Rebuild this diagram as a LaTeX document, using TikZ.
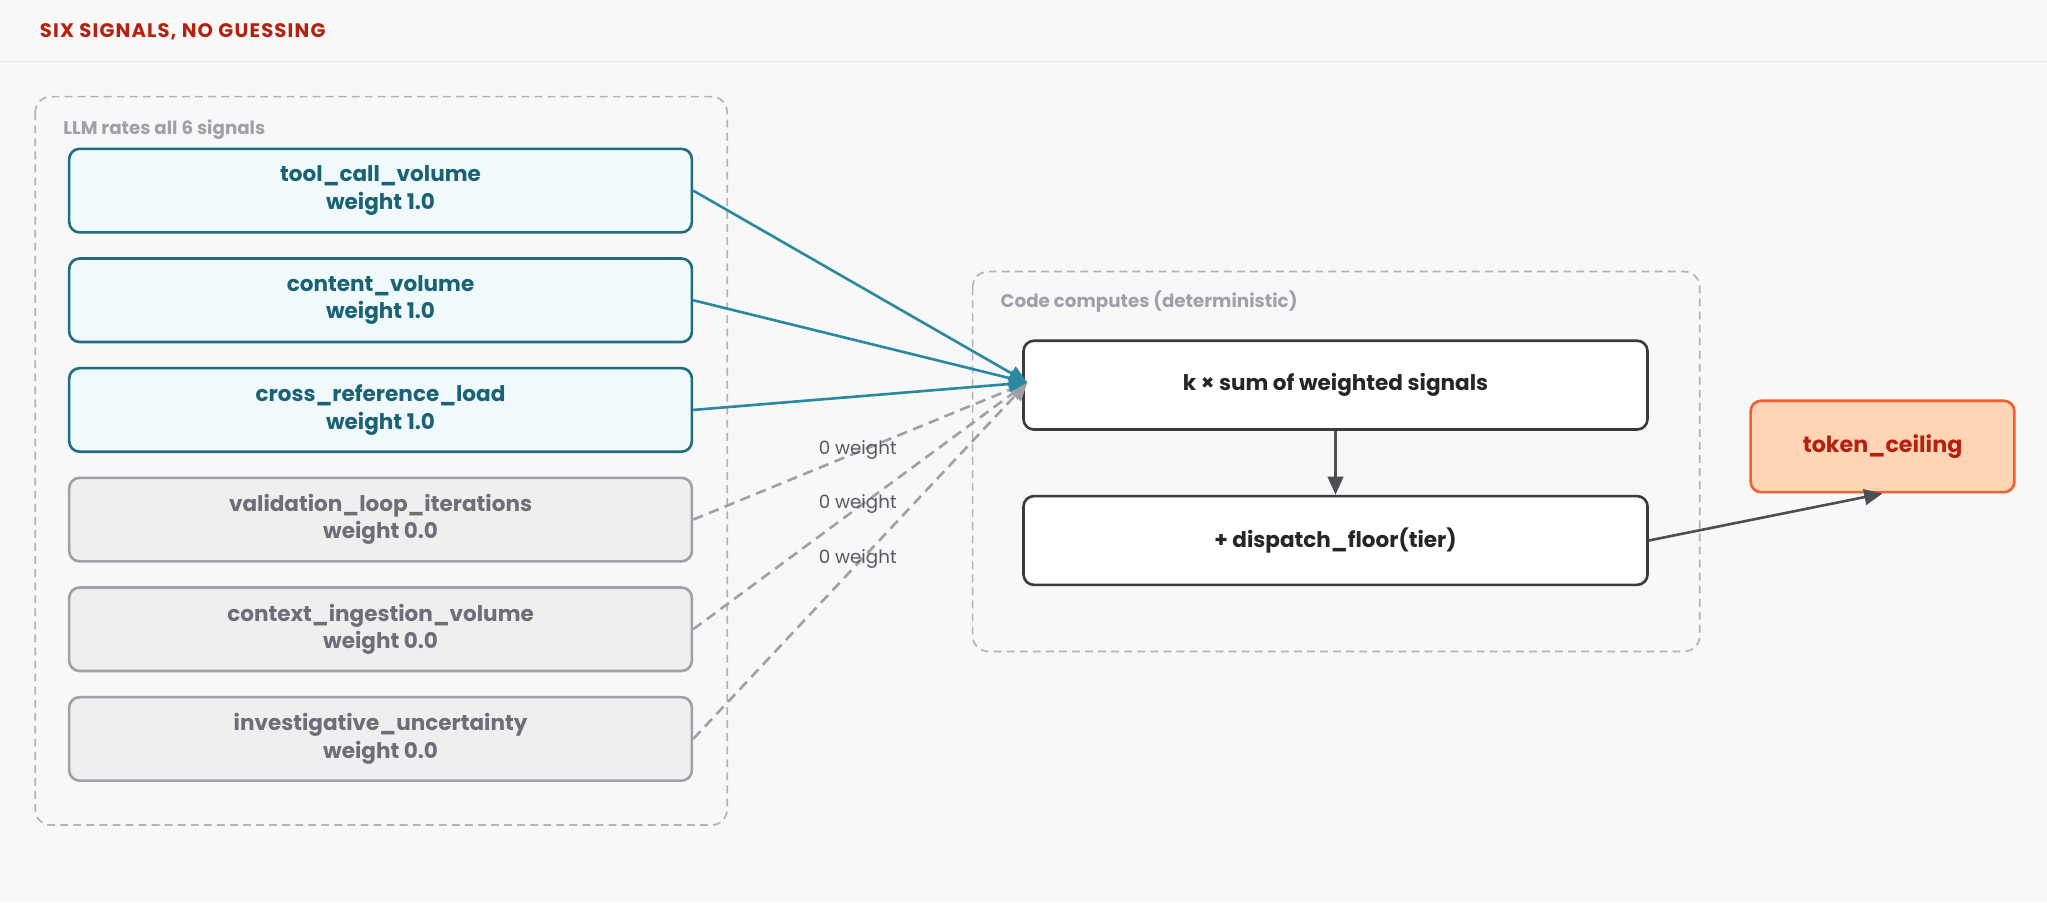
\documentclass[tikz,border=0pt]{standalone}
\usepackage{fontspec}
\setmainfont{Poppins}
\newfontfamily\titlefont[LetterSpace=6]{Poppins}
\usetikzlibrary{arrows.meta}
\definecolor{bg}{HTML}{F8F8F8}
\definecolor{titlered}{HTML}{B5200F}
\definecolor{bluefill}{HTML}{F0FAFC}
\definecolor{blueline}{HTML}{1F6E80}
\definecolor{bluetext}{HTML}{1A6275}
\definecolor{greyfill}{HTML}{EFEFEF}
\definecolor{greyline}{HTML}{A0A0A8}
\definecolor{greytext}{HTML}{6E6E78}
\definecolor{dark}{HTML}{3A3A40}
\definecolor{tokfill}{HTML}{FFD5B5}
\definecolor{tokline}{HTML}{F06030}
\definecolor{arrblue}{HTML}{2A88A0}
\tikzset{
  x=1pt,y=-1pt,
  group/.style={draw=greyline!80,dashed,line width=1.3pt,rounded corners=12pt,dash pattern=on 6pt off 4pt},
  glabel/.style={anchor=west,text=greyline,font=\fontsize{14}{17}\selectfont\bfseries},
  bluebox/.style={draw=blueline,fill=bluefill,line width=2pt,rounded corners=8pt,text=bluetext,font=\fontsize{16.5}{21}\selectfont\bfseries,align=center},
  greybox/.style={draw=greyline,fill=greyfill,line width=2pt,rounded corners=8pt,text=greytext,font=\fontsize{16.5}{21}\selectfont\bfseries,align=center},
  codebox/.style={draw=dark,fill=white,line width=2pt,rounded corners=8pt,text=black!85,font=\fontsize{16.5}{21}\selectfont\bfseries,align=center},
  tokbox/.style={draw=tokline,fill=tokfill,line width=2pt,rounded corners=8pt,text=titlered,font=\fontsize{17}{21}\selectfont\bfseries,align=center},
  bluearr/.style={draw=arrblue,line width=2pt,-{Triangle[length=14pt,width=12pt]}},
  greyarr/.style={draw=greyline,line width=2pt,dash pattern=on 8pt off 5pt,-{Triangle[length=14pt,width=12pt]}},
  darkarr/.style={draw=dark!90,line width=2pt,-{Triangle[length=14pt,width=12pt]}},
  wlabel/.style={font=\fontsize{14}{17}\selectfont,text=greytext!80!black}
}
\begin{document}
\begin{tikzpicture}
\fill[bg] (0,0) rectangle (1568,691);
\useasboundingbox (0,0) rectangle (1568,691);
\node[anchor=west,text=titlered,font=\titlefont\fontsize{15}{18}\selectfont\bfseries] (title) at (27,24) {SIX SIGNALS, NO GUESSING};
\draw[black!10,line width=1pt] (0,47) -- (1568,47);

\draw[group] (27,74) rectangle (557,632);
\node[glabel] (llm) at (45,99) {LLM rates all 6 signals};
\draw[group] (745,208) rectangle (1302,499);
\node[glabel] (code) at (763,231) {Code computes (deterministic)};

\node[bluebox,minimum width=477pt,minimum height=64pt] (s1) at (291.5,146) {tool\_call\_volume\\weight 1.0};
\node[bluebox,minimum width=477pt,minimum height=64pt] (s2) at (291.5,230) {content\_volume\\weight 1.0};
\node[bluebox,minimum width=477pt,minimum height=64pt] (s3) at (291.5,314) {cross\_reference\_load\\weight 1.0};
\node[greybox,minimum width=477pt,minimum height=64pt] (s4) at (291.5,398) {validation\_loop\_iterations\\weight 0.0};
\node[greybox,minimum width=477pt,minimum height=64pt] (s5) at (291.5,482) {context\_ingestion\_volume\\weight 0.0};
\node[greybox,minimum width=477pt,minimum height=64pt] (s6) at (291.5,566) {investigative\_uncertainty\\weight 0.0};

\node[codebox,minimum width=478pt,minimum height=68pt] (k) at (1023,295) {k × sum of weighted signals};
\node[codebox,minimum width=478pt,minimum height=68pt] (d) at (1023,414) {+ dispatch\_floor(tier)};
\node[tokbox,minimum width=202pt,minimum height=70pt] (t) at (1442,342) {token\_ceiling};

\coordinate (kin) at (787,293);
\draw[greyarr] (s4.east) -- (kin);
\draw[greyarr] (s5.east) -- (kin);
\draw[greyarr] (s6.east) -- (kin);
\draw[bluearr] (s1.east) -- (kin);
\draw[bluearr] (s2.east) -- (kin);
\draw[bluearr] (s3.east) -- (kin);

\node[wlabel] (w1) at (657,345) {0 weight};
\node[wlabel] (w2) at (657,386) {0 weight};
\node[wlabel] (w3) at (657,428) {0 weight};

\draw[darkarr] (k.south) -- (d.north);
\draw[darkarr] (d.east) -- (t.south);
\end{tikzpicture}
\end{document}
